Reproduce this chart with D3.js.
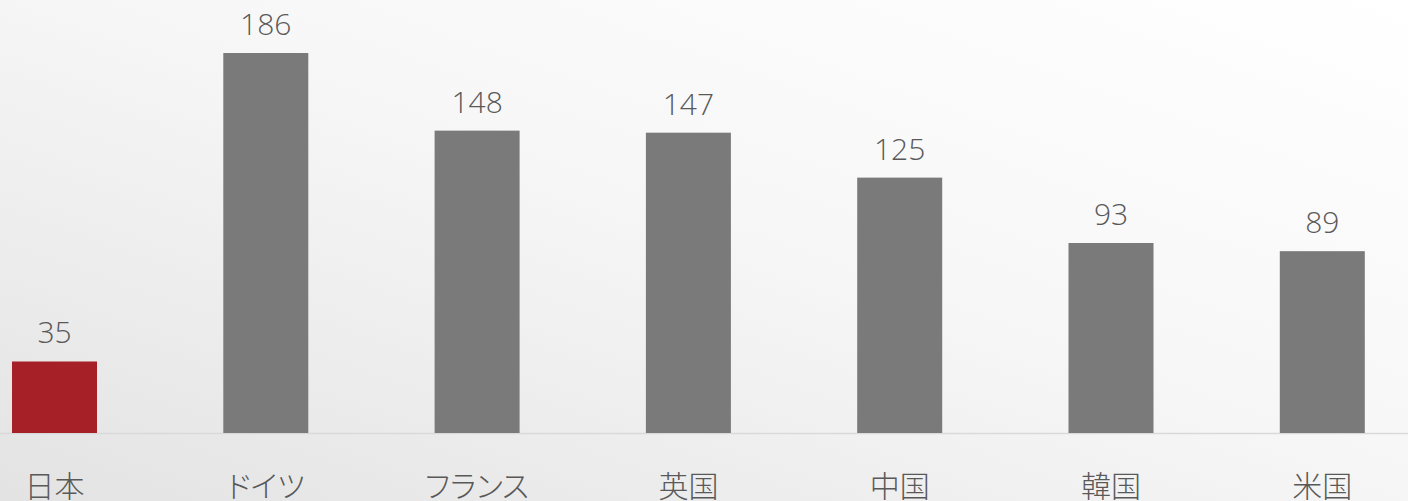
<!DOCTYPE html>
<html lang="ja">
<head>
    <meta charset="UTF-8">
    <title>Chart</title>
    <script src="https://cdn.jsdelivr.net/npm/d3@7"></script>
    <style>
        html, body { margin: 0; padding: 0; overflow: hidden; }
        svg { display: block; }
    </style>
</head>
<body>
    <div id="chart-space"></div>

    <script>
        // data
        var countries = ["日本", "ドイツ", "フランス", "英国", "中国", "韓国", "米国"];
        var values = [35, 186, 148, 147, 125, 93, 89];
        var highlight = "日本";

        var width = 1408;
        var height = 501;
        var baseline = 433;

        var svg = d3.select("#chart-space")
            .append("svg")
            .attr("width", width)
            .attr("height", height);

        // soft diagonal background, darker bottom-left
        var grad = svg.append("defs").append("linearGradient")
            .attr("id", "bg")
            .attr("x1", "0").attr("y1", "1")
            .attr("x2", "1").attr("y2", "0");
        grad.append("stop").attr("offset", "0%").attr("stop-color", "#e3e3e3");
        grad.append("stop").attr("offset", "55%").attr("stop-color", "#f7f7f7");
        grad.append("stop").attr("offset", "100%").attr("stop-color", "#ffffff");

        svg.append("rect")
            .attr("width", width)
            .attr("height", height)
            .attr("fill", "url(#bg)");

        var step = 211.3;
        var xScale = d3.scaleBand()
            .domain(countries)
            .range([54.5 - step / 2, 54.5 + step * 6.5])
            .paddingInner(1 - 85 / step)
            .paddingOuter((1 - 85 / step) / 2);

        var yScale = d3.scaleLinear()
            .domain([0, 186])
            .range([baseline, 53]);

        var data = countries.map(function(c, i) { return {name: c, value: values[i]}; });

        // baseline
        svg.append("line")
            .attr("x1", 0).attr("x2", width)
            .attr("y1", baseline + 0.5).attr("y2", baseline + 0.5)
            .attr("stroke", "#d9d9d9")
            .attr("stroke-width", 1.5);

        svg.selectAll("rect.bar")
            .data(data)
            .join("rect")
            .attr("class", "bar")
            .attr("x", function(d) { return xScale(d.name); })
            .attr("width", xScale.bandwidth())
            .attr("y", function(d) { return yScale(d.value); })
            .attr("height", function(d) { return baseline - yScale(d.value); })
            .attr("fill", function(d) { return d.name === highlight ? "#a52127" : "#7a7a7a"; });

        // value labels
        svg.selectAll("text.val")
            .data(data)
            .join("text")
            .attr("class", "val")
            .attr("x", function(d) { return xScale(d.name) + xScale.bandwidth() / 2; })
            .attr("y", function(d) { return yScale(d.value) - 18; })
            .attr("text-anchor", "middle")
            .attr("fill", "#595959")
            .style("font-family", "'Open Sans', 'Noto Sans', sans-serif")
            .style("font-weight", 300)
            .style("font-size", "30px")
            .text(function(d) { return d.value; });

        // category labels (proportional kana like the original)
        svg.selectAll("text.cat")
            .data(data)
            .join("text")
            .attr("class", "cat")
            .attr("x", function(d) { return xScale(d.name) + xScale.bandwidth() / 2; })
            .attr("y", 497)
            .attr("text-anchor", "middle")
            .attr("fill", "#595959")
            .style("font-family", "'Noto Sans CJK JP', sans-serif")
            .style("font-weight", 300)
            .style("font-size", "30px")
            .style("font-feature-settings", "'palt' 1")
            .text(function(d) { return d.name; });
    </script>
</body>
</html>
